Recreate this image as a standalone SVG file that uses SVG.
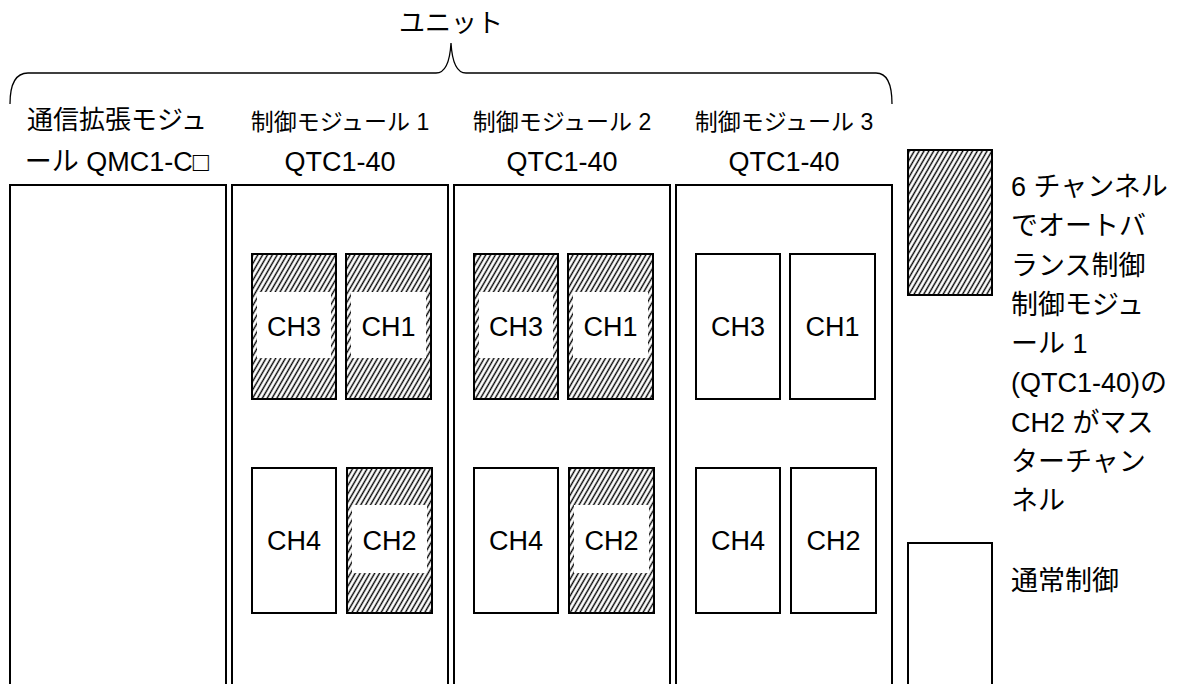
<svg xmlns="http://www.w3.org/2000/svg" width="1192" height="684" viewBox="0 0 1192 684">
<style>
.t{font-family:"Liberation Sans","Noto Sans CJK JP",sans-serif;font-size:27px;fill:#000}
.h{font-size:23px}
.c{font-size:26px}
.m{fill:#fff;stroke:#000;stroke-width:2}
.ch{fill:none;stroke:#000;stroke-width:2}
.chw{fill:#fff;stroke:#000;stroke-width:2}
.hb{fill:url(#hatch)}
.win{fill:#fff}
.br{fill:none;stroke:#000;stroke-width:1.3}
</style>
<defs>
<pattern id="hatch" width="4.2" height="10" patternUnits="userSpaceOnUse" patternTransform="rotate(30)">
<rect width="4.2" height="10" fill="#fff"/>
<line x1="2.1" y1="0" x2="2.1" y2="10" stroke="#000" stroke-width="1.4"/>
</pattern>
</defs>
<rect width="1192" height="684" fill="#fff"/>
<g id="connectors">
<path class="br" d="M10,104 C10,86 14,73 28,73 L436,73 C446,73 450,60 451,43 C452,60 456,73 466,73 L876,73 C888,73 892,86 892,104"/>
</g>
<g id="unit-label"><text class="t c" x="451" y="32" text-anchor="middle">ユニット</text></g>
<g id="comm-module">
<rect class="m" x="10" y="185" width="216" height="520"/>
<text class="t c" x="117" y="129" text-anchor="middle">通信拡張モジュ</text>
<text class="t" x="117" y="171" text-anchor="middle">ール QMC1-C□</text>
</g>
<g id="module1">
<rect class="m" x="232" y="185" width="216" height="520"/>
<text class="t h" x="340" y="130" text-anchor="middle">制御モジュール 1</text>
<text class="t" x="340" y="171" text-anchor="middle">QTC1-40</text>
</g>
<g id="m1-ch3"><rect class="hb" x="252" y="254" width="84" height="145"/><rect class="win" x="257" y="292" width="74" height="66"/><rect class="ch" x="252" y="254" width="84" height="145"/><text class="t" x="294" y="336" text-anchor="middle">CH3</text></g>
<g id="m1-ch1"><rect class="hb" x="346" y="254" width="85" height="145"/><rect class="win" x="351" y="292" width="75" height="66"/><rect class="ch" x="346" y="254" width="85" height="145"/><text class="t" x="388.5" y="336" text-anchor="middle">CH1</text></g>
<g id="m1-ch4"><rect class="chw" x="252" y="468" width="84" height="145"/><text class="t" x="294" y="550" text-anchor="middle">CH4</text></g>
<g id="m1-ch2"><rect class="hb" x="347" y="468" width="85" height="145"/><rect class="win" x="352" y="505" width="75" height="68"/><rect class="ch" x="347" y="468" width="85" height="145"/><text class="t" x="389.5" y="550" text-anchor="middle">CH2</text></g>
<g id="module2">
<rect class="m" x="454" y="185" width="216" height="520"/>
<text class="t h" x="562" y="130" text-anchor="middle">制御モジュール 2</text>
<text class="t" x="562" y="171" text-anchor="middle">QTC1-40</text>
</g>
<g id="m2-ch3"><rect class="hb" x="474" y="254" width="84" height="145"/><rect class="win" x="479" y="292" width="74" height="66"/><rect class="ch" x="474" y="254" width="84" height="145"/><text class="t" x="516" y="336" text-anchor="middle">CH3</text></g>
<g id="m2-ch1"><rect class="hb" x="568" y="254" width="85" height="145"/><rect class="win" x="573" y="292" width="75" height="66"/><rect class="ch" x="568" y="254" width="85" height="145"/><text class="t" x="610.5" y="336" text-anchor="middle">CH1</text></g>
<g id="m2-ch4"><rect class="chw" x="474" y="468" width="84" height="145"/><text class="t" x="516" y="550" text-anchor="middle">CH4</text></g>
<g id="m2-ch2"><rect class="hb" x="569" y="468" width="85" height="145"/><rect class="win" x="574" y="505" width="75" height="68"/><rect class="ch" x="569" y="468" width="85" height="145"/><text class="t" x="611.5" y="550" text-anchor="middle">CH2</text></g>
<g id="module3">
<rect class="m" x="676" y="185" width="216" height="520"/>
<text class="t h" x="784" y="130" text-anchor="middle">制御モジュール 3</text>
<text class="t" x="784" y="171" text-anchor="middle">QTC1-40</text>
</g>
<g id="m3-ch3"><rect class="chw" x="696" y="254" width="84" height="145"/><text class="t" x="738" y="336" text-anchor="middle">CH3</text></g>
<g id="m3-ch1"><rect class="chw" x="790" y="254" width="85" height="145"/><text class="t" x="832.5" y="336" text-anchor="middle">CH1</text></g>
<g id="m3-ch4"><rect class="chw" x="696" y="468" width="84" height="145"/><text class="t" x="738" y="550" text-anchor="middle">CH4</text></g>
<g id="m3-ch2"><rect class="chw" x="791" y="468" width="85" height="145"/><text class="t" x="833.5" y="550" text-anchor="middle">CH2</text></g>
<g id="legend-auto">
<rect class="hb" x="908" y="150" width="84" height="145"/><rect class="ch" x="908" y="150" width="84" height="145"/>
<text class="t" x="1011" y="196">6 チャンネル</text>
<text class="t" x="1011" y="235">でオートバ</text>
<text class="t" x="1011" y="275">ランス制御</text>
<text class="t" x="1011" y="314">制御モジュ</text>
<text class="t" x="1011" y="353">ール 1</text>
<text class="t" x="1011" y="392">(QTC1-40)の</text>
<text class="t" x="1011" y="432">CH2 がマス</text>
<text class="t" x="1011" y="471">ターチャン</text>
<text class="t" x="1011" y="510">ネル</text>
</g>
<g id="legend-normal">
<rect class="chw" x="908" y="543" width="84" height="200"/>
<text class="t" x="1011" y="590">通常制御</text>
</g>
</svg>
